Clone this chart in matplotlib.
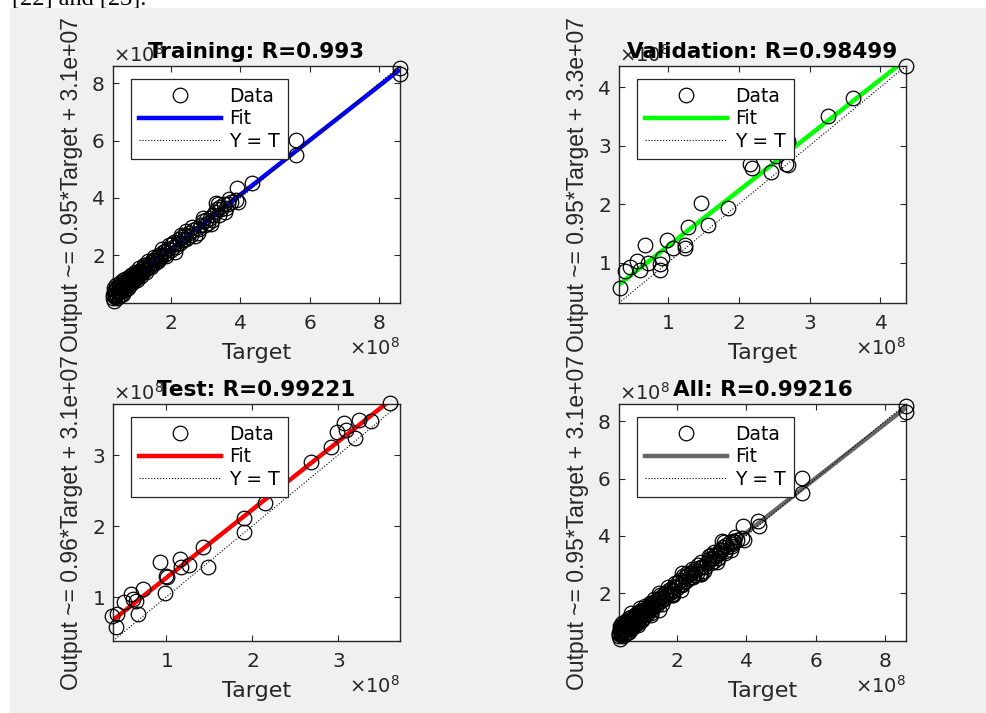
import numpy as np
import matplotlib.pyplot as plt
from matplotlib.patches import Rectangle
from matplotlib.lines import Line2D
from matplotlib.ticker import ScalarFormatter, MultipleLocator

# targets and network outputs (units of 1e8)
train_t = [0.33, 0.35, 0.36, 0.38, 0.40, 0.41, 0.43, 0.45, 0.46, 0.48,
           0.50, 0.52, 0.54, 0.56, 0.58, 0.60, 0.62, 0.64, 0.66, 0.68,
           0.70, 0.72, 0.75, 0.77, 0.80, 0.82, 0.85, 0.87, 0.90, 0.92,
           0.95, 0.98, 1.00, 1.03, 1.06, 1.08, 1.11, 1.14, 1.17, 1.20,
           1.23, 1.26, 1.30, 1.33, 1.36, 1.40, 1.43, 1.46, 1.50, 1.54,
           1.57, 1.61, 1.65, 1.68, 1.72, 1.76, 1.80, 1.84, 1.88, 1.92,
           1.96, 2.00, 2.05, 2.10, 2.14, 2.18, 2.22, 2.26, 2.31, 2.36,
           2.40, 2.44, 2.48, 2.53, 2.58, 2.63, 2.70, 2.75, 2.82, 2.88,
           2.94, 2.98, 3.02, 3.07, 3.12, 3.18, 3.22, 3.27, 3.30, 3.34,
           3.38, 3.42, 3.46, 3.52, 3.58, 3.64, 3.72, 3.88, 3.91, 3.93,
           4.35, 5.62, 5.62, 8.61, 8.61,
           0.34, 0.37, 0.39, 0.42, 0.44, 0.47, 0.49, 0.53, 0.55, 0.57,
           0.61, 0.63, 0.67, 0.69, 0.74, 0.78, 0.83, 0.86, 0.91, 0.96,
           1.02, 1.09, 1.15, 1.21, 1.28, 1.35, 1.44, 1.52, 1.63, 1.74,
           1.86, 2.02, 2.12, 2.28, 2.45, 2.60, 2.78, 2.92, 3.15, 3.36,
           3.55, 3.68]
train_y = [0.60, 0.40, 0.72, 0.55, 0.80, 0.66, 0.62, 0.88, 0.70, 0.78,
           0.58, 0.92, 0.75, 0.84, 0.97, 0.80, 0.65, 1.02, 0.88, 0.95,
           1.10, 0.92, 1.05, 0.86, 1.15, 1.02, 1.20, 1.08, 1.12, 1.30,
           1.18, 1.25, 1.35, 1.22, 1.40, 1.30, 1.46, 1.38, 1.52, 1.42,
           1.58, 1.48, 1.55, 1.68, 1.60, 1.66, 1.76, 1.70, 1.82, 1.74,
           1.90, 1.84, 2.02, 1.90, 1.98, 2.10, 2.02, 2.16, 2.08, 2.20,
           2.34, 2.18, 2.30, 2.46, 2.28, 2.40, 2.56, 2.44, 2.62, 2.52,
           2.70, 2.86, 2.62, 2.78, 2.72, 2.88, 2.66, 2.96, 2.92, 3.04,
           3.18, 3.06, 3.24, 3.14, 3.30, 3.22, 3.40, 3.50, 3.84, 3.60,
           3.42, 3.70, 3.62, 3.80, 3.66, 3.78, 3.86, 3.94, 4.34, 3.86,
           4.52, 6.02, 5.50, 8.53, 8.32,
           0.50, 0.85, 0.62, 0.95, 0.52, 0.68, 1.00, 0.70, 1.05, 0.62,
           0.90, 1.12, 0.78, 1.18, 0.95, 1.25, 0.96, 1.32, 1.05, 1.42,
           1.15, 1.55, 1.28, 1.65, 1.40, 1.78, 1.58, 1.95, 1.78, 2.20,
           1.96, 2.40, 2.12, 2.72, 2.55, 3.00, 2.78, 3.30, 3.10, 3.78,
           3.52, 3.98]

val_t = [0.32, 0.39, 0.46, 0.57, 0.60, 0.67, 0.72, 0.89, 0.91, 0.89,
         0.99, 1.07, 1.24, 1.24, 1.28, 1.47, 1.57, 1.85, 2.16, 2.19,
         2.46, 2.52, 2.66, 2.70, 2.70, 3.26, 3.61, 4.36]
val_y = [0.56, 0.85, 0.93, 1.02, 0.88, 1.30, 1.00, 0.97, 1.08, 0.88,
         1.39, 1.25, 1.30, 1.25, 1.61, 2.02, 1.64, 1.93, 2.69, 2.61,
         2.55, 2.83, 2.69, 2.66, 3.08, 3.51, 3.81, 4.36]

test_t = [0.37, 0.43, 0.42, 0.51, 0.59, 0.61, 0.65, 0.67, 0.73, 0.93,
          0.99, 1.00, 1.01, 1.16, 1.17, 1.26, 1.43, 1.48, 1.90, 1.90,
          2.15, 2.69, 2.92, 2.99, 3.07, 3.09, 3.20, 3.24, 3.38, 3.60]
test_y = [0.73, 0.76, 0.58, 0.93, 1.04, 0.97, 0.94, 0.76, 1.11, 1.49,
          1.06, 1.29, 1.28, 1.53, 1.42, 1.45, 1.70, 1.42, 2.12, 1.92,
          2.33, 2.90, 3.11, 3.32, 3.45, 3.35, 3.24, 3.50, 3.48, 3.73]

panel_names = ['Training', 'Validation', 'Test', 'All']
panel_r = ['0.993', '0.98499', '0.99221', '0.99216']
fit_slope = [0.95, 0.95, 0.96, 0.95]
fit_icpt = [3.1e7, 3.3e7, 3.1e7, 3.1e7]
fit_colors = ['#0000ff', '#00ff00', '#ff0000', '#666666']
axis_lims = [(0.33, 8.61), (0.31, 4.36), (0.38, 3.72), (0.33, 8.61)]
tick_step = [2, 1, 1, 2]

scale = 1e8
sets = [(train_t, train_y), (val_t, val_y), (test_t, test_y),
        (train_t + val_t + test_t, train_y + val_y + test_y)]

W, H = 986, 713
fig = plt.figure(figsize=(W / 100, H / 100), dpi=100)
fig.patch.set_facecolor('white')

# page text above the figure panel, mostly cut off
fig.text(12 / W, 1 - 5 / H, '[22] and [23].', fontfamily='Liberation Serif',
         fontsize=17.5, va='baseline', zorder=-2)
fig.add_artist(Rectangle((10 / W, 0), 1, 1 - 8 / H, transform=fig.transFigure,
                         facecolor='#f0f0f0', edgecolor='none', zorder=-1))

# axes boxes in pixels: left, top
boxes = [(113, 66), (619, 66), (113, 404), (619, 404)]
aw, ah = 287, 237
dark = '#262626'

for i in range(4):
    left, top = boxes[i]
    ax = fig.add_axes([left / W, 1 - (top + ah) / H, aw / W, ah / H])
    ax.set_facecolor('white')
    t = np.array(sets[i][0]) * scale
    y = np.array(sets[i][1]) * scale
    lo, hi = axis_lims[i][0] * scale, axis_lims[i][1] * scale

    line = np.array([lo, hi])
    ax.plot(t, y, 'o', mfc='none', mec='black', ms=10.5, mew=0.9, zorder=3,
            clip_on=False)
    ax.plot(line, fit_slope[i] * line + fit_icpt[i], color=fit_colors[i],
            lw=3.2, zorder=2, solid_capstyle='butt')
    ax.plot(line, line, color='black', ls=':', lw=0.8, zorder=2)

    ax.set_xlim(lo, hi)
    ax.set_ylim(lo, hi)
    for axis in (ax.xaxis, ax.yaxis):
        axis.set_major_locator(MultipleLocator(tick_step[i] * scale))
        axis.set_major_formatter(ScalarFormatter(useMathText=True))
    ax.xaxis.offsetText.set_fontsize(14)
    ax.yaxis.offsetText.set_fontsize(14)
    ax.xaxis.offsetText.set_color(dark)
    ax.yaxis.offsetText.set_color(dark)

    ax.tick_params(direction='in', length=4, width=0.8, top=True, right=True,
                   colors=dark, labelsize=14.5)
    ax.tick_params(axis='x', pad=8)
    ax.tick_params(axis='y', pad=6)
    for sp in ax.spines.values():
        sp.set_color(dark)
        sp.set_linewidth(1.0)

    ax.set_title(f'{panel_names[i]}: R={panel_r[i]}', fontweight='bold',
                 fontsize=15.5, y=1.0, pad=6)
    ax.set_xlabel('Target', fontsize=16, color=dark, labelpad=7)
    ax.set_ylabel(f'Output ~= {fit_slope[i]:.2f}*Target + {fit_icpt[i]:.2g}',
                  fontsize=16.5, color=dark, fontfamily='Liberation Sans',
                  labelpad=6)

    handles = [Line2D([], [], ls='none', marker='o', mfc='none', mec='black',
                      ms=10.5, mew=0.9),
               Line2D([], [], color=fit_colors[i], lw=3.2),
               Line2D([], [], color='black', ls=':', lw=0.8)]
    leg = ax.legend(handles, ['Data', 'Fit', 'Y = T'], loc='upper left',
                    bbox_to_anchor=(0.063, 0.945), borderaxespad=0,
                    fontsize=13.5, handlelength=4.4, handletextpad=0.45,
                    labelspacing=0.2, borderpad=0.4, fancybox=False,
                    framealpha=1, edgecolor=dark)
    leg.get_frame().set_linewidth(0.9)
    leg.set_zorder(5)

fig.savefig('out.png', dpi=100)
